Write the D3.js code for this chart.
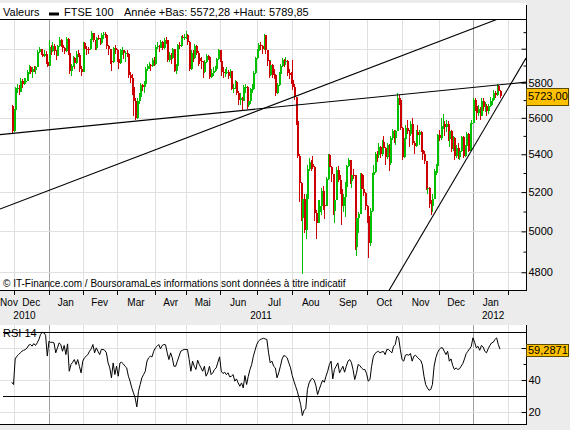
<!DOCTYPE html>
<html>
<head>
<meta charset="utf-8">
<title>FTSE 100</title>
<style>
  body { margin: 0; background: #ececec; }
  svg { display: block; font-family: "Liberation Sans", Arial, sans-serif; }
</style>
</head>
<body>
<svg width="570" height="430"></svg>
<script src="https://cdn.jsdelivr.net/npm/d3@7"></script>
<script>

// daily FTSE 100 bars, 30 Nov 2010 -> 25 Jan 2012 (one row per month)
var opens = [
  5668,
  5528,5642,5767,5770,5745,5808,5794,5808,5812,5860,5891,5862,5882,5871,5891,5983,5996,5971,5956,5971,5920,
  5900,6013,5984,6019,5985,5957,6015,6050,6023,6002,5985,6057,5976,5867,5896,5943,5917,5969,5965,5881,
  5862,6033,6000,5998,5997,6052,6092,6052,6004,6062,6061,6037,6085,6087,6083,6014,5996,5924,5919,6002,
  5994,5936,5914,5990,5990,5973,5974,5967,5845,5829,5775,5695,5598,5696,5718,5786,5774,5795,5880,5900,5901,5895,5932,
  5909,6009,6016,6007,6042,6007,6055,6053,5932,5964,5945,5997,5870,5896,6023,6018,6069,6068,
  6069,6082,6040,5880,5976,5942,6018,5976,5945,5925,5923,5861,5923,5955,5948,5835,5858,5870,5880,5938,
  5990,5928,5860,5855,5863,5864,5840,5868,5766,5768,5804,5742,5698,5714,5697,5773,5775,5674,5697,5763,5766,5855,
  5945,5989,6024,6015,5997,6080,5991,5929,5845,5906,5846,5844,5740,5787,5853,5899,5935,5925,5929,5856,5846,
  5815,5774,5718,5585,5393,5247,5069,5164,5008,5163,5320,5357,5350,5331,5093,5040,5096,5129,5206,5132,5130,5268,
  5395,5330,5293,5103,5157,5318,5263,5214,5129,5174,5227,5337,5368,5260,5289,5288,4924,5067,5089,5294,5217,5196,
  5128,5075,4944,5102,5291,5303,5400,5396,5441,5403,5466,5436,5383,5450,5351,5488,5525,5490,5525,5713,5702,
  5544,5384,5484,5545,5527,5511,5567,5460,5445,5519,5503,5519,5423,5399,5362,5222,5223,5139,5127,5164,5312,5337,
  5505,5490,5552,5568,5547,5567,5484,5529,5428,5491,5389,5432,5387,5419,5492,5389,5443,5512,5420,5566,
  5572,5700,5668,5625,5650,5612,5697,5662,5668,5637,5669,5693,5702,5742,5729,5782,5752
];
var highs = [
  5675,
  5650,5775,5790,5785,5830,5820,5830,5825,5875,5905,5895,5890,5900,5900,5990,6010,6000,5980,5990,5985,5930,
  6050,6020,6040,6030,5990,6025,6070,6060,6030,6010,6070,6065,5980,5910,5955,5950,5985,5990,5975,5900,
  6040,6040,6015,6010,6060,6105,6095,6055,6070,6085,6065,6095,6100,6100,6085,6020,6000,5940,6010,6020,
  6000,5945,6000,6010,5995,5985,5990,5970,5860,5850,5780,5710,5710,5740,5800,5790,5810,5890,5910,5920,5910,5945,5950,
  6020,6040,6025,6050,6045,6065,6070,6055,5980,5975,6005,6000,5910,6030,6040,6075,6080,6090,
  6105,6090,6045,5990,5990,6030,6025,5985,5970,5950,5925,5935,5970,5965,5950,5880,5890,5900,5945,6000,
  5995,5930,5890,5880,5890,5875,5880,5870,5790,5815,5810,5750,5740,5720,5785,5790,5780,5720,5770,5790,5870,5950,
  6000,6035,6040,6020,6090,6085,5995,5935,5930,5910,5880,5850,5800,5865,5910,5945,5940,5950,5935,5880,5860,
  5935,5790,5720,5590,5400,5250,5170,5190,5190,5340,5380,5370,5390,5335,5110,5160,5160,5220,5230,5150,5280,5400,
  5400,5335,5295,5170,5330,5335,5290,5215,5190,5250,5340,5380,5370,5320,5320,5290,5090,5100,5300,5300,5290,5200,
  5135,5080,5120,5300,5340,5410,5420,5460,5445,5480,5500,5440,5460,5455,5500,5540,5530,5535,5740,5730,5705,
  5550,5490,5560,5590,5530,5580,5600,5470,5530,5560,5530,5525,5440,5420,5365,5260,5225,5160,5190,5320,5350,5510,
  5530,5600,5620,5580,5590,5580,5540,5530,5500,5495,5450,5460,5430,5500,5500,5450,5520,5515,5570,5590,
  5710,5710,5680,5670,5660,5710,5710,5690,5680,5680,5720,5710,5760,5750,5790,5785,5760
];
var lows = [
  5514,
  5520,5640,5740,5730,5745,5770,5785,5790,5810,5850,5850,5830,5860,5850,5891,5975,5960,5950,5950,5910,5890,
  5900,5960,5980,5960,5930,5955,6010,6010,5980,5970,5980,5960,5850,5840,5890,5880,5910,5950,5860,5840,
  5862,5980,5960,5970,5995,6045,6040,5990,5995,6050,6020,6030,6060,6065,6000,5960,5910,5870,5915,5970,
  5920,5880,5910,5960,5940,5920,5950,5830,5800,5730,5610,5590,5596,5680,5718,5750,5740,5795,5870,5880,5870,5890,5900,
  5905,6000,5980,6005,5990,6000,6030,5920,5920,5910,5940,5860,5850,5896,6000,6010,6040,6050,
  6060,6020,5870,5875,5920,5940,5965,5900,5910,5880,5830,5855,5915,5930,5820,5825,5840,5860,5875,5930,
  5920,5840,5830,5835,5850,5820,5830,5760,5740,5765,5730,5670,5670,5640,5695,5740,5650,5660,5680,5740,5766,5850,
  5940,5980,5990,5970,5990,5970,5900,5830,5840,5830,5820,5725,5735,5780,5820,5890,5890,5905,5840,5820,5790,
  5760,5700,5560,5380,5150,5050,4791,4990,4960,5160,5310,5310,5320,5050,4960,5040,5080,5080,5110,5060,5130,5265,
  5300,5250,5080,5040,5157,5250,5190,5030,5100,5070,5220,5330,5240,5220,5270,4910,4880,4990,5089,5200,5180,5110,
  5040,4870,4930,5100,5280,5300,5360,5380,5380,5390,5420,5340,5375,5310,5345,5480,5460,5450,5525,5670,5530,
  5370,5380,5400,5510,5440,5500,5450,5400,5440,5490,5450,5410,5370,5350,5210,5190,5120,5080,5100,5164,5290,5300,
  5470,5480,5540,5500,5520,5470,5440,5410,5420,5370,5380,5375,5370,5410,5380,5385,5440,5410,5415,5550,
  5572,5640,5590,5610,5590,5610,5640,5630,5610,5620,5660,5670,5700,5710,5725,5730,5710
];
var closes = [
  5528,
  5642,5767,5770,5745,5808,5794,5808,5812,5860,5891,5862,5882,5871,5891,5983,5996,5971,5956,5971,5920,5900,
  6013,5984,6019,5985,5957,6015,6050,6023,6002,5985,6057,5976,5867,5896,5943,5917,5969,5965,5881,5862,
  6033,6000,5998,5997,6052,6092,6052,6004,6062,6061,6037,6085,6087,6083,6014,5996,5924,5919,6002,5994,
  5936,5914,5990,5990,5973,5974,5967,5845,5829,5775,5695,5598,5696,5718,5786,5774,5795,5880,5900,5901,5895,5932,5909,
  6009,6016,6007,6042,6007,6055,6053,5932,5964,5945,5997,5870,5896,6023,6018,6069,6068,6069,
  6082,6040,5880,5976,5942,6018,5976,5945,5925,5923,5861,5923,5955,5948,5835,5858,5870,5880,5938,5990,
  5928,5860,5855,5863,5864,5840,5868,5766,5768,5804,5742,5698,5714,5697,5773,5775,5674,5697,5763,5766,5855,5945,
  5989,6024,6015,5997,6080,5991,5929,5845,5906,5846,5844,5740,5787,5853,5899,5935,5925,5929,5856,5846,5815,
  5774,5718,5585,5393,5247,5069,5164,5008,5163,5320,5357,5350,5331,5093,5040,5096,5129,5206,5132,5130,5268,5395,
  5330,5293,5103,5157,5318,5263,5214,5129,5174,5227,5337,5368,5260,5289,5288,4924,5067,5089,5294,5217,5196,5128,
  5075,4944,5102,5291,5303,5400,5396,5441,5403,5466,5436,5383,5450,5351,5488,5525,5490,5525,5713,5702,5544,
  5384,5484,5545,5527,5511,5567,5460,5445,5519,5503,5519,5423,5399,5362,5222,5223,5139,5127,5164,5312,5337,5505,
  5490,5552,5568,5547,5567,5484,5529,5428,5491,5389,5432,5387,5419,5492,5389,5443,5512,5420,5566,5572,
  5700,5668,5625,5650,5612,5697,5662,5668,5637,5669,5693,5702,5742,5729,5782,5752,5723
];

// RSI 14, one value per day
var rsi = [
  38.6,37.2,53.2,54.9,55.9,57,58,58.6,59,60,
  61.8,62.2,61.2,62.8,61.6,63.2,65.3,68.4,69.9,69.5,
  68,55,64.3,63.5,63.6,63.2,57,60.1,63.2,62.2,
  58,61.6,55.9,62.6,45.5,49.7,51.1,52.8,49.7,52.8,
  48.6,44.5,51.8,53.9,54.9,55.9,58,59.5,62.2,57,
  60.1,58,55.9,59.1,59.1,58.6,57,50.7,47.6,41.4,
  50.7,43.4,48.6,42.4,50.7,51.1,50.1,48.6,47.6,42.4,
  39.3,35.1,32,28.9,23.2,33,37.2,41.4,43.4,45.5,
  51.8,53.9,54.9,54.5,58,60.1,61.1,62.2,59.5,61.6,
  62.2,62,57,52.8,57,53.9,48.6,48.6,51.8,54.9,
  58,58.6,59.1,59.1,59.1,52.8,45.5,51.8,48.6,46.6,
  52.4,49.7,47.6,45.5,48.6,42.4,44.5,48.6,43.4,44.5,
  46.6,47.6,51.1,54.5,45.5,44.1,44.9,43.4,44.5,42,
  42.4,43.4,39.3,40.7,38.2,36.1,38.2,35.1,42.8,37.2,
  42.4,46.6,49.7,54.9,58.6,62.2,64.3,65.3,65.7,66.1,
  65.7,65.3,57,50.7,51.8,48.6,47.6,41.4,44.5,48.6,
  53.2,55.3,54.9,53.9,50.7,47.6,42.8,39.3,36.1,33,
  28.9,24.7,17.8,21.1,22,34.1,38.2,40.3,41.1,39.9,
  36.6,30.9,34.1,37.2,39.9,38.6,42.4,45.5,49.7,51.8,
  40.7,46.6,48.6,50.7,44.5,46.6,48.6,44.9,48.6,51.8,
  52.8,51.1,46.6,40.3,44.1,49.7,49.1,47.6,46.6,46.6,
  44.1,39.3,40.3,48.6,54.5,56.6,57.4,58,57,57.6,
  57.8,55.9,59.1,59.1,58,57,61.1,62.2,67.4,66.4,
  59.1,52.8,51.8,55.5,55.9,55.5,56.6,51.8,54.9,55.5,
  54.3,53.2,52.4,49.7,42.4,37.2,35.1,33.6,34.1,37.2,
  48.6,53.9,57,59.1,60.1,60.1,58,55.9,58,51.8,
  53.2,49.1,46.6,47.6,46.6,47,48.6,50.3,53.2,56.6,
  58,59.5,61.1,66.4,63.6,60.1,61.1,58.6,61.6,60.7,
  58,57,59.5,61.6,63.2,63.6,65.3,66.4,62.2,59.3
];

// month axis: first trading day index of each month (Dec 2010 .. Feb 2012)
var monthStarts = [1, 22, 42, 62, 85, 103, 123, 145, 166, 188, 210, 231, 253, 273, 294];
var monthLabels = ["Nov", "Dec", "Jan", "Fev", "Mar", "Avr", "Mai", "Jun", "Jul", "Aou", "Sep", "Oct", "Nov", "Dec", "Jan"];
var yearLabels = ["2010", "2011", "2012"];
var yearStarts = [22, 273];

var priceTicks = [4800, 5000, 5200, 5400, 5600, 5800, 6000];
var priceMinor = [4900, 5100, 5300, 5500, 5700, 5900, 6100];
var rsiTicks = [20, 40, 60];
var rsiMinor = [30, 50];
var rsiLevels = [30, 70];

// hand drawn trend lines: [day index, price] ends
var trendLines = [
  [[-7, 5507], [304.4, 5803]],
  [[-7, 5113], [304.4, 6247]],
  [[218, 4643], [304.4, 5944]]
];

var lastPrice = "5723,00";
var lastRsi = "59,2871";

var svg = d3.select("svg");
var W = 526;
var mainTop = 19.5, mainBot = 290.5;
var rsiTop = 325, rsiBot = 425;
var green = "#00c000", red = "#cc0000";

var x = d3.scaleLinear().domain([-7, 304.4]).range([0, W]);
var y = d3.scaleLog().domain([4713.5, 6180.6]).range([mainBot, 19]);
var yRsi = d3.scaleLinear().domain([11.9, 74.4]).range([rsiBot, rsiTop]);

function px(v) { return Math.round(v) + 0.5; }

// white panels
svg.append("rect").attr("x", 0).attr("y", 3).attr("width", W).attr("height", mainBot - 3).attr("fill", "#fff");
svg.append("rect").attr("x", 0).attr("y", rsiTop).attr("width", W).attr("height", rsiBot - rsiTop).attr("fill", "#fff");

var grid = svg.append("g").attr("shape-rendering", "crispEdges");

// vertical month grid, darker at year change
[[mainTop, mainBot], [rsiTop, rsiBot]].forEach(function(r) {
  grid.selectAll(null)
    .data(monthStarts)
    .enter().append("line")
      .attr("x1", function(d) { return px(x(d)); })
      .attr("x2", function(d) { return px(x(d)); })
      .attr("y1", r[0]).attr("y2", r[1])
      .attr("stroke", function(d) { return yearStarts.indexOf(d) >= 0 ? "#a0a0a0" : "#e0e0e0"; });
});

grid.selectAll(null)
  .data(priceTicks)
  .enter().append("line")
    .attr("x1", 0).attr("x2", W)
    .attr("y1", function(d) { return px(y(d)); })
    .attr("y2", function(d) { return px(y(d)); })
    .attr("stroke", "#e0e0e0");

grid.selectAll(null)
  .data(rsiTicks)
  .enter().append("line")
    .attr("x1", 0).attr("x2", W)
    .attr("y1", function(d) { return px(yRsi(d)); })
    .attr("y2", function(d) { return px(yRsi(d)); })
    .attr("stroke", "#e0e0e0");

// candles
var bars = svg.append("g").attr("shape-rendering", "crispEdges");
function col(i) { return closes[i] >= opens[i] ? green : red; }

bars.selectAll("line")
  .data(closes)
  .enter().append("line")
    .attr("x1", function(d, i) { return Math.round(x(i)) + 0.5; })
    .attr("x2", function(d, i) { return Math.round(x(i)) + 0.5; })
    .attr("y1", function(d, i) { return y(highs[i]); })
    .attr("y2", function(d, i) { return y(lows[i]); })
    .attr("stroke", function(d, i) { return col(i); });

bars.selectAll("rect")
  .data(closes)
  .enter().append("rect")
    .attr("x", function(d, i) { return Math.round(x(i)); })
    .attr("width", 2)
    .attr("y", function(d, i) { return y(Math.max(opens[i], closes[i])); })
    .attr("height", function(d, i) {
      return Math.max(1, y(Math.min(opens[i], closes[i])) - y(Math.max(opens[i], closes[i])));
    })
    .attr("fill", function(d, i) { return col(i); });

// trend lines, clipped to the price panel
svg.append("clipPath").attr("id", "plotclip")
  .append("rect").attr("x", 0).attr("y", mainTop).attr("width", W).attr("height", mainBot - mainTop);

var tl = d3.line().x(function(d) { return x(d[0]); }).y(function(d) { return y(d[1]); });
svg.append("g").attr("clip-path", "url(#plotclip)")
  .selectAll("path")
  .data(trendLines)
  .enter().append("path")
    .attr("d", tl)
    .attr("fill", "none")
    .attr("stroke", "#000")
    .attr("stroke-width", 1.1);

// frame lines
var frame = svg.append("g").attr("stroke", "#000").attr("shape-rendering", "crispEdges");
frame.append("line").attr("x1", 0).attr("x2", W).attr("y1", mainTop).attr("y2", mainTop);
frame.append("line").attr("x1", 0).attr("x2", W + 1).attr("y1", mainBot).attr("y2", mainBot);
frame.append("line").attr("x1", W + 0.5).attr("x2", W + 0.5).attr("y1", 5).attr("y2", mainBot);
frame.append("line").attr("x1", W + 0.5).attr("x2", W + 0.5).attr("y1", rsiTop).attr("y2", rsiBot);
frame.append("line").attr("x1", 0).attr("x2", W + 1).attr("y1", rsiBot - 0.5).attr("y2", rsiBot - 0.5);
rsiLevels.forEach(function(v) {
  frame.append("line").attr("x1", 3).attr("x2", W).attr("y1", px(yRsi(v))).attr("y2", px(yRsi(v)));
});

// RSI line
svg.append("path")
  .datum(rsi)
  .attr("fill", "none")
  .attr("stroke", "#000")
  .attr("stroke-width", 1)
  .attr("d", d3.line().x(function(d, i) { return x(i); }).y(function(d) { return yRsi(d); }));

// right axes
function rightAxis(scale, major, minor, fmt) {
  var g = svg.append("g").attr("transform", "translate(" + (W + 0.5) + ",0)");
  g.call(d3.axisRight(scale).tickValues(major).tickSize(-5).tickPadding(2).tickFormat(fmt));
  g.append("g").call(d3.axisRight(scale).tickValues(minor).tickSize(-3).tickFormat(""));
  g.selectAll(".domain").remove();
  g.selectAll("text").attr("font-size", 11).attr("font-family", "Liberation Sans, Arial, sans-serif").attr("fill", "#000");
  g.selectAll("line").attr("stroke", "#000");
  return g;
}
rightAxis(y, priceTicks, priceMinor, function(d) { return d <= 5800 ? d : ""; });
rightAxis(yRsi, rsiTicks, rsiMinor, function(d) { return d < 60 ? d : ""; });

// value boxes
function valueBox(cy, h, label) {
  svg.append("rect").attr("x", W + 0.5).attr("y", Math.round(cy - h / 2) + 0.5)
    .attr("width", 42).attr("height", h).attr("fill", "#ffc000").attr("stroke", "#5a4a00");
  svg.append("text").attr("x", W + 2).attr("y", cy + 4).attr("font-size", 11).text(label);
}
valueBox(y(closes[closes.length - 1]), 17, lastPrice);
valueBox(yRsi(rsi[rsi.length - 1]) + 1, 12, lastRsi);

// bottom time axis
var xa = svg.append("g").attr("transform", "translate(0," + mainBot + ")");
xa.call(d3.axisBottom(x).tickValues(monthStarts).tickSize(4).tickFormat(""));
xa.selectAll(".domain").remove();
xa.selectAll("line").attr("stroke", "#000").attr("shape-rendering", "crispEdges");

var edges = [-21].concat(monthStarts);
svg.append("g").selectAll("text")
  .data(monthLabels)
  .enter().append("text")
    .attr("x", function(d, i) { return Math.max(9, (x(edges[i]) + x(edges[i + 1])) / 2); })
    .attr("y", 305.5)
    .attr("text-anchor", "middle")
    .attr("font-size", 10)
    .text(function(d) { return d; });

var yearEdges = [0, x(yearStarts[0]), x(yearStarts[1]), x(monthStarts[monthStarts.length - 1]) + 5];
svg.append("g").selectAll("text")
  .data(yearLabels)
  .enter().append("text")
    .attr("x", function(d, i) { return (yearEdges[i] + yearEdges[i + 1]) / 2; })
    .attr("y", 319)
    .attr("text-anchor", "middle")
    .attr("font-size", 10)
    .text(function(d) { return d; });

// header
var head = svg.append("g").attr("font-size", 11);
head.append("text").attr("x", 3).attr("y", 16).text("Valeurs");
head.append("rect").attr("x", 49).attr("y", 12.5).attr("width", 10).attr("height", 3).attr("fill", "#000");
head.append("text").attr("x", 64).attr("y", 16).text("FTSE 100");
head.append("text").attr("x", 124).attr("y", 16).text("Année +Bas: 5572,28 +Haut: 5789,85");

svg.append("text").attr("x", 3).attr("y", 287).attr("font-size", 10)
  .text("© IT-Finance.com / BoursoramaLes informations sont données à titre indicatif");
svg.append("text").attr("x", 3).attr("y", 337).attr("font-size", 11).text("RSI 14");

</script>
</body>
</html>
